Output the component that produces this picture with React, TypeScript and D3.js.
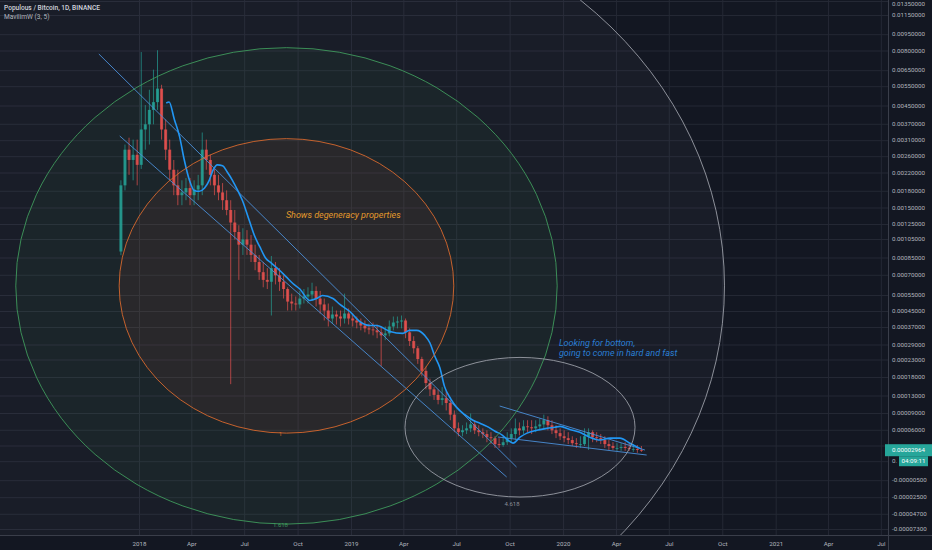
import React, { useEffect, useRef } from 'react';
import * as d3 from 'd3';

const W = 932;
const H = 550;
const PLOT_W = 888;
const PLOT_H = 535;

// POP/BTC, weekly buckets starting 2017-11-30, prices in satoshi
const candleStart = '2017-11-30';
const firstOpenSats = 92000;
const closeSats = [
  193000, 282000, 252000, 266000, 240000, 351000, 370000, 433000, 470000, 540000,
  351000, 282000, 228000, 193000, 173000, 178000, 187000, 173000, 184000, 193000,
  282000, 252000, 216000, 193000, 178000, 164000, 147000, 128000, 115000, 99400,
  105000, 99400, 88300, 81500, 72700, 66600, 65200, 76200, 70000, 65200,
  59800, 51200, 50000, 49400, 53100, 54400, 55700, 58400, 53100, 49400,
  45600, 41500, 43500, 42500, 41500, 44000, 41500, 40500, 39500, 38000,
  36600, 36100, 35700, 34800, 33400, 34300, 37500, 39500, 40000, 40500,
  34800, 30800, 27700, 23400, 19900, 16500, 14800, 13300, 12100, 12500,
  11400, 8800, 6350, 5700, 6000, 6350, 7050, 6000, 5700, 5400,
  4900, 4750, 3800, 3650, 4100, 4750, 5400, 6350, 6000, 6700,
  6550, 6350, 6700, 7050, 7800, 6900, 6000, 5550, 5050, 4750,
  4450, 3950, 3800, 3800, 5050, 5700, 4900, 4750, 4450, 3800,
  3500, 3250, 3250, 3380, 3250, 3130, 3130, 3000, 2964,
];
const highSats = [
  204000, 298000, 321000, 314000, 314000, 792000, 455000, 534000, 658000, 807000,
  562000, 391000, 314000, 252000, 228000, 204000, 209000, 209000, 204000, 216000,
  340000, 314000, 266000, 232000, 216000, 198000, 182000, 164000, 147000, 124000,
  120000, 117500, 111000, 99400, 88300, 81500, 76200, 87200, 81500, 76200,
  70000, 61100, 56400, 54400, 58400, 59800, 61100, 64500, 61800, 58400,
  53100, 50000, 48100, 45600, 45600, 56400, 46900, 44000, 42500, 41500,
  40500, 39000, 39500, 38500, 37500, 37500, 40500, 42500, 42500, 43000,
  41500, 36600, 33000, 28600, 24300, 21100, 17700, 15400, 14800, 15400,
  14200, 12100, 9700, 7400, 6900, 7400, 9000, 7800, 6900, 6350,
  6000, 5700, 5050, 4750, 5050, 5700, 6350, 8100, 7400, 7800,
  7800, 7800, 7800, 8100, 8800, 8500, 7800, 6900, 6350, 6000,
  5700, 5050, 4750, 5050, 6350, 6350, 6000, 5700, 5400, 5050,
  4450, 4100, 3950, 3950, 4100, 3950, 3800, 3650, 3500,
];
const lowSats = [
  88000, 182000, 216000, 204000, 193000, 230000, 282000, 298000, 370000, 433000,
  314000, 252000, 204000, 173000, 155000, 155000, 164000, 155000, 155000, 164000,
  173000, 228000, 193000, 173000, 164000, 147000, 139000, 16200, 105000, 66600,
  88300, 88300, 81500, 74400, 66600, 61100, 59800, 43000, 63200, 58400,
  53100, 45600, 45600, 45600, 46900, 50000, 50000, 51900, 48100, 44000,
  40500, 37500, 39000, 38500, 37500, 39000, 38500, 37500, 36600, 35700,
  34800, 33900, 33400, 32100, 21300, 31200, 33000, 35700, 36600, 36600,
  32100, 28600, 25600, 21900, 18300, 14800, 13000, 12100, 11100, 10900,
  9700, 7800, 5700, 5050, 5050, 5400, 5700, 5400, 5050, 4750,
  4100, 3800, 3250, 3250, 3400, 3650, 4100, 4450, 5200, 5400,
  5700, 5400, 5700, 6000, 6350, 6000, 5400, 4750, 4450, 4100,
  3800, 3500, 3250, 3250, 3500, 3000, 4100, 4100, 3800, 3250,
  3000, 3000, 2880, 2880, 2880, 2880, 2750, 2630, 2750,
];

// MavilimW (3, 5)
const mavilimDates = [
  '2018-02-16', '2018-02-21', '2018-03-02', '2018-03-11', '2018-03-19', '2018-03-28', '2018-04-05',
  '2018-04-14', '2018-04-23', '2018-05-01', '2018-05-08', '2018-05-15', '2018-05-24', '2018-06-01',
  '2018-06-10', '2018-06-19', '2018-06-27', '2018-07-09', '2018-07-18', '2018-07-27', '2018-08-06',
  '2018-08-16', '2018-08-30', '2018-09-11', '2018-09-22', '2018-10-04', '2018-10-21', '2018-11-02',
  '2018-11-12', '2018-11-30', '2018-12-12', '2018-12-29', '2019-01-15', '2019-02-01', '2019-02-13',
  '2019-03-08', '2019-03-30', '2019-04-11', '2019-04-23', '2019-05-07', '2019-05-16', '2019-05-24',
  '2019-06-02', '2019-06-10', '2019-06-21', '2019-07-01', '2019-07-15', '2019-07-29', '2019-08-10',
  '2019-08-22', '2019-09-05', '2019-09-18', '2019-09-27', '2019-10-06', '2019-10-18', '2019-10-30',
  '2019-11-16', '2019-12-03', '2019-12-17', '2019-12-26', '2020-01-12', '2020-01-29', '2020-02-15',
  '2020-03-04', '2020-03-21', '2020-04-07', '2020-04-24', '2020-05-13',
];
const mavilimValues = [
  0.00466, 0.00471, 0.00391, 0.00325, 0.002525, 0.00204, 0.00182,
  0.0018, 0.00187, 0.00204, 0.00228, 0.0024, 0.002375, 0.002225,
  0.00204, 0.00182, 0.00164, 0.00131, 0.0011, 0.000972, 0.00085,
  0.000806, 0.000744, 0.000686, 0.000639, 0.000598, 0.000519, 0.000531,
  0.00055, 0.000531, 0.000494, 0.00045, 0.0004, 0.00038, 0.00038,
  0.000352, 0.000343, 0.000357, 0.000357, 0.000334, 0.000299, 0.000247,
  0.000208, 0.000156, 0.000123, 0.000104, 0.000088, 0.000078, 0.0000725,
  0.000067, 0.0000585, 0.000052, 0.0000445, 0.0000395, 0.000049, 0.0000555,
  0.00006, 0.0000635, 0.0000655, 0.000067, 0.0000615, 0.000057, 0.000049,
  0.0000445, 0.0000475, 0.0000475, 0.0000395, 0.0000313,
];

// price axis labels (the two covered ones sit under the last-price badges)
const priceTicks = [
  0.0135, 0.0115, 0.0095, 0.008, 0.0065, 0.0055, 0.0045, 0.0037, 0.0031, 0.0026,
  0.0022, 0.0018, 0.0015, 0.00125, 0.00105, 0.00085, 0.0007, 0.00055, 0.00045, 0.00037,
  0.00029, 0.00023, 0.00018, 0.00013, 0.00009, 0.00006,
  -0.000005, -0.000025, -0.000047, -0.000073,
];
const coveredTicks = [0.000035, 0.000015];

// time axis labels
const timeTicks = [
  '2018-01-01', '2018-04-01', '2018-07-01', '2018-10-01', '2019-01-01', '2019-04-01', '2019-07-01',
  '2019-10-01', '2020-01-01', '2020-04-01', '2020-07-01', '2020-10-01', '2021-01-01', '2021-04-01',
  '2021-07-01',
];
const timeLabels = ['2018', 'Apr', 'Jul', 'Oct', '2019', 'Apr', 'Jul', 'Oct', '2020', 'Apr', 'Jul', 'Oct', '2021', 'Apr', 'Jul'];

// drawings (anchored in time / price)
const trendStarts: [string, number][] = [
  ['2017-10-23', 0.007772],
  ['2017-11-28', 0.003272],
  ['2019-09-13', 0.0001071],
  ['2019-09-10', 0.0000493],
];
const trendEnds: [string, number][] = [
  ['2019-10-12', 0.0000094],
  ['2019-09-25', -0.0000011],
  ['2020-05-20', 0.0000299],
  ['2020-05-23', 0.0000235],
];

const fibCenter: [string, number] = ['2018-09-11', 0.0006214];
const fibEdge: [string, number] = ['2019-06-26', 0.003175];
const fibLevels = [2.618, 1.618, 1];
const fibLabels = ['2.618', '1.618', '1'];

const smallCenter: [string, number] = ['2019-10-18', 0.0000655];
const smallEdge: [string, number] = ['2020-05-03', 0.00024034];
const smallLabel = '4.618';

const notes = [
  { date: '2018-09-10', price: 0.0013485, lines: ['Shows degeneracy properties'], color: '#e39a2b' },
  { date: '2019-12-24', price: 0.000286, lines: ['Looking for bottom,', 'going to come in hard and fast'], color: '#2a7fd4' },
];

const symbolTitle = 'Populous / Bitcoin, 1D, BINANCE';
const studyTitle = 'MavilimW (3, 5)';
const lastPrice = 0.00002964;
const countdown = '04:09:11';

const FONT = 'Roboto, "Noto Sans", "DejaVu Sans", sans-serif';

const App: React.FC = () => {
  const svgRef = useRef<SVGSVGElement>(null);

  useEffect(() => {
    if (!svgRef.current) return;
    const svg = d3.select(svgRef.current);
    svg.selectAll('*').remove();

    const parse = d3.timeParse('%Y-%m-%d');
    const pd = (s: string) => parse(s) as Date;

    const x = d3.scaleTime().domain([pd('2018-01-01'), pd('2021-01-01')]).range([139.5, 776.2]);
    // TradingView price scale, calibrated on its own labels
    const scaleValues = [
      0.0135, 0.0115, 0.0095, 0.008, 0.0065, 0.0055, 0.0045, 0.0037, 0.0031, 0.0026,
      0.0022, 0.0018, 0.0015, 0.00125, 0.00105, 0.00085, 0.0007, 0.00055, 0.00045, 0.00037,
      0.00029, 0.00023, 0.00018, 0.00013, 0.00009, 0.00006, 0.000035, 0.000015,
      -0.000005, -0.000025, -0.000047, -0.000073,
    ];
    const scaleY = [
      1.5, 15.5, 34.7, 51, 70.7, 86.7, 106, 124.3, 140.7, 156.7,
      173, 191.3, 208, 224.5, 239.5, 258, 275.3, 295.5, 311.5, 327.5,
      345, 360, 377.5, 396, 413.5, 430.3, 446, 461.7,
      480.7, 497.7, 514.3, 529.5,
    ];
    const y = d3.scaleLinear().domain(scaleValues).range(scaleY);

    svg.append('rect').attr('width', W).attr('height', H).attr('fill', '#131722');

    const defs = svg.append('defs');
    defs.append('clipPath').attr('id', 'plot-clip')
      .append('rect').attr('x', 0).attr('y', 0).attr('width', PLOT_W).attr('height', PLOT_H);
    defs.append('clipPath').attr('id', 'covered-clip')
      .append('rect').attr('x', PLOT_W).attr('y', 0).attr('width', 10.5).attr('height', H);

    // grid
    const grid = svg.append('g');
    grid.selectAll('.vg').data(timeTicks).enter().append('line')
      .attr('x1', (d) => x(pd(d))).attr('x2', (d) => x(pd(d)))
      .attr('y1', 0).attr('y2', PLOT_H)
      .attr('stroke', '#242834').attr('stroke-width', 1);
    grid.selectAll('.hg').data([...priceTicks, ...coveredTicks]).enter().append('line')
      .attr('x1', 0).attr('x2', PLOT_W)
      .attr('y1', (d) => y(d)).attr('y2', (d) => y(d))
      .attr('stroke', '#242834').attr('stroke-width', 1);

    const plot = svg.append('g').attr('clip-path', 'url(#plot-clip)');

    // fib circles
    const cx = x(pd(fibCenter[0]));
    const cy = y(fibCenter[1]);
    const rx0 = Math.abs(x(pd(fibEdge[0])) - cx);
    const ry0 = Math.abs(y(fibEdge[1]) - cy);
    const fibStroke = ['#9a9da6', '#3f9a5c', '#d8692e'];
    const fibFill = ['rgba(200,205,215,0.035)', 'rgba(60,170,90,0.06)', 'rgba(230,90,60,0.07)'];
    fibLevels.forEach((lv, i) => {
      plot.append('ellipse')
        .attr('cx', cx).attr('cy', cy)
        .attr('rx', rx0 * lv).attr('ry', ry0 * lv)
        .attr('fill', fibFill[i]);
    });

    const scx = x(pd(smallCenter[0]));
    const scy = y(smallCenter[1]);
    const srx = Math.abs(x(pd(smallEdge[0])) - scx);
    const sry = Math.abs(y(smallEdge[1]) - scy);
    plot.append('ellipse')
      .attr('cx', scx).attr('cy', scy).attr('rx', srx).attr('ry', sry)
      .attr('fill', 'rgba(200,205,215,0.035)');

    // candles
    const start = pd(candleStart);
    const candles = closeSats.map((c, i) => {
      const o = i === 0 ? firstOpenSats : closeSats[i - 1];
      return {
        date: d3.timeDay.offset(start, 7 * i),
        o: o / 1e8,
        c: c / 1e8,
        h: Math.max(highSats[i], o, c) / 1e8,
        l: Math.min(lowSats[i], o, c) / 1e8,
      };
    });
    const up = '#26a69a';
    const down = '#ef5350';
    const cg = plot.append('g');
    cg.selectAll('.wick').data(candles).enter().append('line')
      .attr('x1', (d) => x(d.date)).attr('x2', (d) => x(d.date))
      .attr('y1', (d) => y(d.h)).attr('y2', (d) => y(d.l))
      .attr('stroke', (d) => (d.c >= d.o ? up : down))
      .attr('stroke-opacity', 0.75)
      .attr('stroke-width', 0.9);
    cg.selectAll('.body').data(candles).enter().append('rect')
      .attr('x', (d) => x(d.date) - 1.5)
      .attr('width', 3)
      .attr('y', (d) => Math.min(y(d.o), y(d.c)))
      .attr('height', (d) => Math.max(0.8, Math.abs(y(d.o) - y(d.c))))
      .attr('fill', (d) => (d.c >= d.o ? up : down))
      .attr('fill-opacity', 0.8);

    // trend lines
    plot.selectAll('.trend').data(trendStarts).enter().append('line')
      .attr('x1', (d) => x(pd(d[0]))).attr('y1', (d) => y(d[1]))
      .attr('x2', (_d, i) => x(pd(trendEnds[i][0]))).attr('y2', (_d, i) => y(trendEnds[i][1]))
      .attr('stroke', '#4b8fd8').attr('stroke-width', 0.9);

    // MavilimW
    const mav = mavilimDates.map((d, i) => [x(pd(d)), y(mavilimValues[i])] as [number, number]);
    plot.append('path')
      .attr('d', d3.line().curve(d3.curveMonotoneX)(mav) || '')
      .attr('fill', 'none').attr('stroke', '#2196f3').attr('stroke-width', 1.6);

    // circle outlines and level labels
    fibLevels.forEach((lv, i) => {
      plot.append('ellipse')
        .attr('cx', cx).attr('cy', cy)
        .attr('rx', rx0 * lv).attr('ry', ry0 * lv)
        .attr('fill', 'none').attr('stroke', fibStroke[i]).attr('stroke-width', 0.9);
      const ly = cy + ry0 * lv + 3;
      if (ly < PLOT_H - 4) {
        plot.append('text')
          .attr('x', cx - 6).attr('y', ly)
          .attr('text-anchor', 'middle')
          .attr('font-family', FONT).attr('font-size', 6)
          .attr('fill', fibStroke[i])
          .text(fibLabels[i]);
      }
    });
    plot.append('ellipse')
      .attr('cx', scx).attr('cy', scy).attr('rx', srx).attr('ry', sry)
      .attr('fill', 'none').attr('stroke', '#9a9da6').attr('stroke-width', 0.9);
    plot.append('text')
      .attr('x', scx - 8).attr('y', scy + sry + 9)
      .attr('text-anchor', 'middle')
      .attr('font-family', FONT).attr('font-size', 6)
      .attr('fill', '#8a8d96')
      .text(smallLabel);

    // notes
    notes.forEach((n) => {
      n.lines.forEach((line, j) => {
        plot.append('text')
          .attr('x', x(pd(n.date))).attr('y', y(n.price) + j * 10)
          .attr('font-family', FONT).attr('font-size', 9).attr('font-style', 'italic')
          .attr('fill', n.color)
          .text(line);
      });
    });

    // axes borders
    svg.append('line').attr('x1', PLOT_W + 0.5).attr('x2', PLOT_W + 0.5).attr('y1', 0).attr('y2', H)
      .attr('stroke', '#3a3e4a').attr('stroke-width', 1);
    svg.append('line').attr('x1', 0).attr('x2', W).attr('y1', PLOT_H + 0.5).attr('y2', PLOT_H + 0.5)
      .attr('stroke', '#3a3e4a').attr('stroke-width', 1);

    // price axis labels
    svg.selectAll('.plabel').data(priceTicks).enter().append('text')
      .attr('x', PLOT_W + 4).attr('y', (d) => Math.max(4, y(d)))
      .attr('dominant-baseline', 'middle')
      .attr('font-family', FONT).attr('font-size', 6.2)
      .attr('fill', '#b2b5be')
      .text((d) => d.toFixed(8));
    // only the head of the lower covered label peeks out left of the countdown badge
    svg.append('text')
      .attr('clip-path', 'url(#covered-clip)')
      .attr('x', PLOT_W + 4).attr('y', y(coveredTicks[1]))
      .attr('dominant-baseline', 'middle')
      .attr('font-family', FONT).attr('font-size', 6.2)
      .attr('fill', '#b2b5be')
      .text(coveredTicks[1].toFixed(8).slice(0, 2));

    // time axis labels
    svg.selectAll('.tlabel').data(timeTicks).enter().append('text')
      .attr('x', (d) => x(pd(d))).attr('y', 546)
      .attr('text-anchor', 'middle')
      .attr('font-family', FONT).attr('font-size', 6.2)
      .attr('fill', '#b2b5be')
      .text((_d, i) => timeLabels[i]);

    // last price marker
    const ly = y(lastPrice);
    svg.append('rect').attr('x', PLOT_W - 3).attr('y', ly - 6).attr('width', W - PLOT_W + 3).attr('height', 12)
      .attr('fill', '#26a69a');
    svg.append('text').attr('x', PLOT_W + 4).attr('y', ly)
      .attr('dominant-baseline', 'middle')
      .attr('font-family', FONT).attr('font-size', 6.2).attr('fill', '#ffffff')
      .text(lastPrice.toFixed(8));
    svg.append('rect').attr('x', 899).attr('y', ly + 6).attr('width', 29).attr('height', 10)
      .attr('fill', '#26a69a');
    svg.append('text').attr('x', 913.5).attr('y', ly + 11)
      .attr('text-anchor', 'middle').attr('dominant-baseline', 'middle')
      .attr('font-family', FONT).attr('font-size', 6.2).attr('fill', '#ffffff')
      .text(countdown);

    // legend
    svg.append('text').attr('x', 4).attr('y', 10)
      .attr('font-family', FONT).attr('font-size', 6.6).attr('font-weight', 500)
      .attr('fill', '#d1d4dc').text(symbolTitle);
    svg.append('text').attr('x', 4).attr('y', 19)
      .attr('font-family', FONT).attr('font-size', 6.6)
      .attr('fill', '#b2b5be').text(studyTitle);
  }, []);

  return (
    <div style={{ position: 'absolute', left: 0, top: 0, width: W, height: H, background: '#131722' }}>
      <svg ref={svgRef} width={W} height={H} style={{ display: 'block' }} />
    </div>
  );
};

export default App;
